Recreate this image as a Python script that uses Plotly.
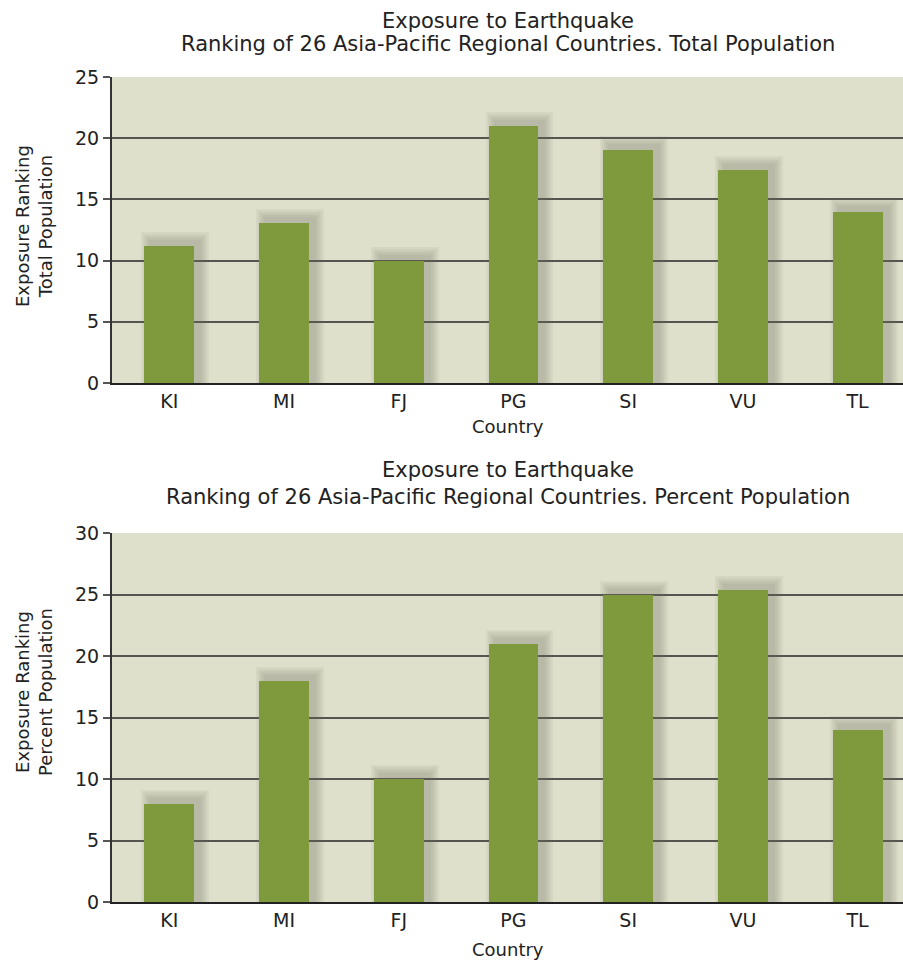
import plotly.graph_objects as go

# Country codes and exposure rankings
countries = ["KI", "MI", "FJ", "PG", "SI", "VU", "TL"]
rank_total = [11.2, 13.1, 10.0, 21.0, 19.0, 17.4, 14.0]
rank_percent = [8.0, 18.0, 10.0, 21.0, 25.0, 25.4, 14.0]

W, H = 903, 961
BAR_COLOR = "#7e9a3c"
PLOT_BG = "#dfe0cb"
GRID = "#55554f"
FONT = "DejaVu Sans, Verdana, sans-serif"

# plot rectangles in pixels: (top, bottom)
top_px = (77, 383)
bot_px = (533, 902)
x_left_px = 112
slot_px = 114.7
bar_w = 0.435
x_range = [-0.5, -0.5 + (W - x_left_px) / slot_px]


def ydom(px):
    return [(H - px[1]) / H, (H - px[0]) / H]


fig = go.Figure()


def add_bars(vals, xa, ya, ymax, px):
    unit_y = ymax / (px[1] - px[0])  # data units per pixel, vertical
    unit_x = 1 / slot_px
    # soft drop shadow: stacked translucent rectangles
    for grow in [9, 7, 5, 3, 1]:
        fig.add_trace(go.Bar(
            x=countries,
            y=[v + (5 + grow) * unit_y for v in vals],
            width=bar_w + 2 * grow * unit_x,
            offset=-bar_w / 2 + (6 - grow) * unit_x,
            marker=dict(color="rgba(110,108,90,0.075)", line=dict(width=0)),
            xaxis=xa, yaxis=ya, hoverinfo="skip", showlegend=False,
        ))
    fig.add_trace(go.Bar(
        x=countries, y=vals, width=bar_w,
        marker=dict(color=BAR_COLOR, line=dict(width=0)),
        xaxis=xa, yaxis=ya, showlegend=False,
    ))


add_bars(rank_total, "x", "y", 25, top_px)
add_bars(rank_percent, "x2", "y2", 30, bot_px)

axis_font = dict(family=FONT, size=19, color="#222")
xcommon = dict(
    type="category", range=x_range, domain=[x_left_px / W, 1],
    showgrid=False, showline=True, linecolor="#222", linewidth=2,
    ticks="", tickfont=axis_font, zeroline=False, automargin=False,
)
ycommon = dict(
    showgrid=True, gridcolor=GRID, gridwidth=1.5,
    showline=True, linecolor="#333", linewidth=2,
    ticks="outside", ticklen=7, tickcolor="#555", tickwidth=1.5,
    tickfont=axis_font, zeroline=False, automargin=False,
)

fig.update_layout(
    width=W, height=H,
    margin=dict(l=0, r=0, t=0, b=0, autoexpand=False),
    paper_bgcolor="white", plot_bgcolor=PLOT_BG,
    barmode="overlay", bargap=0,
    font=dict(family=FONT, color="#222"),
    xaxis=dict(xcommon, anchor="y"),
    yaxis=dict(ycommon, domain=ydom(top_px), range=[0, 25], dtick=5, anchor="x"),
    xaxis2=dict(xcommon, anchor="y2"),
    yaxis2=dict(ycommon, domain=ydom(bot_px), range=[0, 30], dtick=5, anchor="x2"),
)

title_font = dict(family=FONT, size=21, color="#222")
label_font = dict(family=FONT, size=18, color="#222")
cx = (x_left_px + W) / 2 / W

annotations = [
    ("Exposure to Earthquake", cx, 21, title_font, 0),
    ("Ranking of 26 Asia-Pacific Regional Countries. Total Population", cx, 44, title_font, 0),
    ("Country", cx, 427, label_font, 0),
    ("Exposure to Earthquake", cx, 470, title_font, 0),
    ("Ranking of 26 Asia-Pacific Regional Countries. Percent Population", cx, 497, title_font, 0),
    ("Country", cx, 949, label_font, 0),
    ("Exposure Ranking<br>Total Population", 34 / W, 226, label_font, -90),
    ("Exposure Ranking<br>Percent Population", 34 / W, 692, label_font, -90),
]
for text, x, ypx, f, ang in annotations:
    fig.add_annotation(
        text=text, x=x, y=(H - ypx) / H, xref="paper", yref="paper",
        showarrow=False, font=f, textangle=ang,
        xanchor="center", yanchor="middle", align="center",
    )

fig.write_html("out.html")
